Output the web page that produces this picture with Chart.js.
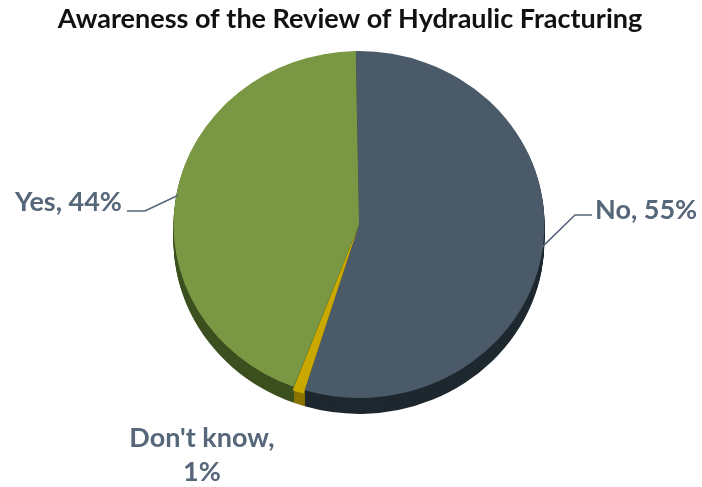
<!DOCTYPE html>
<html>
<head>
<meta charset="utf-8">
<script src="https://cdn.jsdelivr.net/npm/chart.js@4.4.1/dist/chart.umd.min.js"></script>
<style>
  html,body{margin:0;padding:0;background:#fff;}
  #wrap{width:702px;height:487px;position:relative;}
</style>
</head>
<body>
<div id="wrap"><canvas id="pie" width="702" height="487"></canvas></div>
<script>
// data
const categories=['No',"Don't know",'Yes'];
const shares=[55,1,44];
const faceColors=['#4b5a68','#c9a800','#7a9843'];
const sideColors=['#1e282f','#8a7300','#3c501f'];
const titleText='Awareness of the Review of Hydraulic Fracturing';

const tilt=0.935;   // vertical squash of the pie face
const depth=16;     // thickness of the pie wall, px

// where each label sits; leader=true draws an elbow line to the slice
const labelSpots=[
    {lines:['No, 55%'],x:595,y:210,align:'left',leader:true,elbowX:575,lineY:215,endX:592},
    {lines:["Don't know,",'1%'],x:202,y:438,align:'center',leader:false},
    {lines:['Yes, 44%'],x:122,y:202,align:'right',leader:true,elbowX:145,lineY:211,endX:127}
];

function arcPath(ctx,p){
    ctx.beginPath();
    ctx.moveTo(p.x,p.y);
    ctx.arc(p.x,p.y,p.outerRadius,p.startAngle,p.endAngle);
    ctx.closePath();
}

const tiltPlugin={
    id:'tilt3d',
    beforeDatasetsDraw(chart){
        const ctx=chart.ctx;
        const arcs=chart.getDatasetMeta(0).data;
        const cx=arcs[0].x,cy=arcs[0].y;
        ctx.save();
        ctx.translate(cx,cy);
        ctx.scale(1,tilt);
        ctx.translate(-cx,-cy);
        for(let d=depth;d>=1;d--){
            ctx.save();
            ctx.translate(0,d/tilt);
            arcs.forEach((arc,i)=>{
                arcPath(ctx,arc.getProps(['x','y','startAngle','endAngle','outerRadius'],true));
                ctx.fillStyle=sideColors[i];
                ctx.fill();
            });
            ctx.restore();
        }
        // transform stays on for the faces, undone after the datasets are drawn
    },
    afterDatasetsDraw(chart){
        chart.ctx.restore();
    }
};

const labelPlugin={
    id:'pieLabels',
    afterDraw(chart){
        const ctx=chart.ctx;
        const arcs=chart.getDatasetMeta(0).data;
        ctx.save();
        ctx.fillStyle='#111';
        ctx.font='bold 27px Lato';
        ctx.textAlign='center';
        ctx.textBaseline='middle';
        ctx.fillText(titleText,350,19);

        ctx.font='bold 27px Lato';
        ctx.fillStyle='#56677a';
        ctx.strokeStyle='#56677a';
        ctx.lineWidth=1.6;
        labelSpots.forEach((s,i)=>{
            const p=arcs[i].getProps(['x','y','startAngle','endAngle','outerRadius'],true);
            if(s.leader){
                const mid=(p.startAngle+p.endAngle)/2;
                const ex=p.x+Math.cos(mid)*(p.outerRadius-2);
                const ey=p.y+Math.sin(mid)*(p.outerRadius-2)*tilt;
                ctx.beginPath();
                ctx.moveTo(ex,ey);
                ctx.lineTo(s.elbowX,s.lineY);
                ctx.lineTo(s.endX,s.lineY);
                ctx.stroke();
            }
            ctx.textAlign=s.align;
            s.lines.forEach((t,k)=>ctx.fillText(t,s.x,s.y+k*34));
        });
        ctx.restore();
    }
};

new Chart(document.getElementById('pie'),{
    type:'pie',
    data:{
        labels:categories,
        datasets:[{
            data:shares,
            backgroundColor:faceColors,
            borderWidth:0,
            hoverOffset:0,
            offset:[0,8,0]
        }]
    },
    options:{
        responsive:false,
        animation:false,
        rotation:-1,
        layout:{padding:{left:169,right:153,top:35,bottom:73}},
        plugins:{
            legend:{display:false},
            title:{display:false},
            tooltip:{enabled:false}
        }
    },
    plugins:[tiltPlugin,labelPlugin]
});
</script>
</body>
</html>
